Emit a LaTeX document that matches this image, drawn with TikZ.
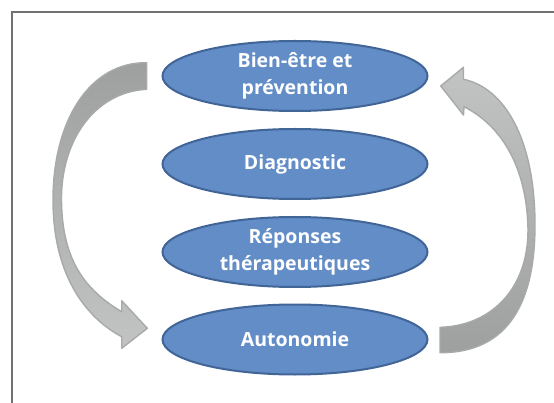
\documentclass[tikz,border=0pt]{standalone}
\usepackage{fontspec}
\setmainfont{Open Sans}
\usetikzlibrary{shapes.geometric}
\definecolor{ellfill}{RGB}{98,141,199}
\definecolor{elldraw}{RGB}{66,101,152}
\definecolor{framegray}{RGB}{112,114,114}
\definecolor{arrdark}{RGB}{158,160,160}
\definecolor{arrlight}{RGB}{194,196,196}
\definecolor{arredge}{RGB}{168,170,170}
\begin{document}
\begin{tikzpicture}[x=1pt,y=1pt,
  stage/.style={ellipse, fill=ellfill, draw=elldraw, line width=2pt,
    minimum width=265pt, minimum height=70pt, inner sep=0pt, text=white,
    font=\fontsize{19.5}{27}\selectfont\bfseries, align=center},
  blockarrow/.style={draw=arredge, line width=1.4pt, line join=round}]
\useasboundingbox (0,0) rectangle (554,-403);
\fill[white] (0,0) rectangle (554,-403);
\begin{scope}
\clip (0,0) rectangle (554,-403);
\draw[framegray, line width=2.3pt] (12.2,-420) -- (12.2,-12.2) -- (570,-12.2);
\end{scope}
% left curved arrow (down)
\path[blockarrow, top color=arrdark, bottom color=arrlight]
 (146.7,-62.7) .. controls (90,-62) and (53,-120) .. (53,-200)
 .. controls (53,-280) and (90,-320) .. (121.7,-336.7)
 -- (121.7,-348.3) -- (147.3,-328.3) -- (121.7,-300.7) -- (121.7,-311.7)
 .. controls (85,-290) and (62,-260) .. (61.5,-200)
 .. controls (61,-140) and (95,-92) .. (146.7,-89.3) -- cycle;
% right curved arrow (up)
\path[blockarrow, top color=arrlight, bottom color=arrdark]
 (440,-352.7) .. controls (510,-353) and (535,-300) .. (535,-225)
 .. controls (535,-140) and (505,-88) .. (463.5,-79.3)
 -- (463.5,-67.3) -- (440.7,-86) -- (463.5,-115) -- (464,-106.7)
 .. controls (500,-125) and (527,-165) .. (528,-230)
 .. controls (528,-290) and (490,-326) .. (440,-327.3) -- cycle;
\node[stage] (bien) at (295,-76) {Bien-être et\\prévention};
\node[stage] (diag) at (295,-164) {Diagnostic};
\node[stage] (rep) at (295,-252) {Réponses\\thérapeutiques};
\node[stage] (auto) at (295,-339.5) {Autonomie};
\end{tikzpicture}
\end{document}
